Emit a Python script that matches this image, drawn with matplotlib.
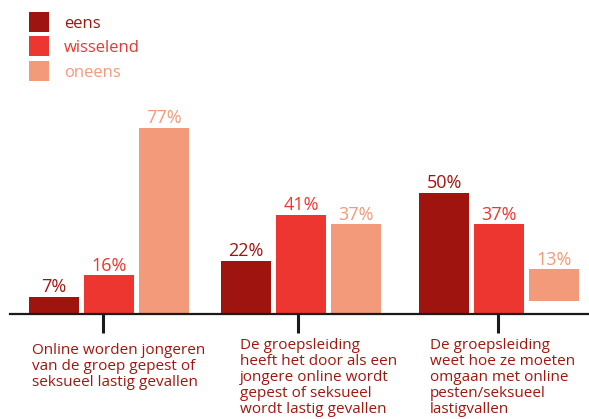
import matplotlib.pyplot as plt
from matplotlib.lines import Line2D
from matplotlib.transforms import Affine2D

plt.rcParams['font.family'] = ['Open Sans', 'DejaVu Sans']

# data
series = ['eens', 'wisselend', 'oneens']
eens = [7, 22, 50]
wisselend = [16, 41, 37]
oneens = [77, 37, 13]
oneens_base = [0, 0, 5.5]  # floating bar in the original
categories = [
    'Online worden jongeren\nvan de groep gepest of\nseksueel lastig gevallen',
    'De groepsleiding\nheeft het door als een\njongere online wordt\ngepest of seksueel\nwordt lastig gevallen',
    'De groepsleiding\nweet hoe ze moeten\nomgaan met online\npesten/seksueel\nlastigvallen',
]

colors = ['#a0140f', '#ed362f', '#f29a7a']
label_col = '#a3150f'

W, H = 589, 419
fig = plt.figure(figsize=(W / 100, H / 100), dpi=100)
# axes in pixel units horizontally, percent vertically (baseline at y=314px)
ax = fig.add_axes([10 / W, 0, 1 - 10 / W, 1])
px_per = 2.42
ax.set_xlim(10, W)
ax.set_ylim(-(H - 314) / px_per, 314 / px_per)

centers = [109, 301, 499]
bw, step = 50, 55
for j, (vals, base) in enumerate([(eens, [0, 0, 0]), (wisselend, [0, 0, 0]), (oneens, oneens_base)]):
    xs = [c + (j - 1) * step for c in centers]
    bars = ax.bar(xs, vals, width=bw, bottom=base, color=colors[j], label=series[j])
    ax.bar_label(bars, labels=[f'{v}%' for v in vals], padding=0.5,
                 color=colors[j], fontsize=13)

for s in ['top', 'right', 'left']:
    ax.spines[s].set_visible(False)
ax.spines['bottom'].set_position(('data', 0))
ax.spines['bottom'].set_linewidth(1.6)
ax.spines['bottom'].set_color('#1a1a1a')
ax.set_yticks([])
ax.set_xticks([103, 298, 498])
ax.set_xticklabels([])
ax.tick_params(axis='x', length=14, width=2.2, color='#1a1a1a', direction='out')

# category labels (figure pixels, origin bottom-left)
label_pos = [(32, H - 343), (240, H - 338), (430, H - 338)]
for txt, (x, y) in zip(categories, label_pos):
    ax.annotate(txt, (x, y), xycoords='figure pixels', ha='left', va='top',
                fontsize=11, color=label_col, linespacing=1.1)

handles = [Line2D([], [], marker='s', markersize=15, linestyle='',
                  color=c, markeredgewidth=0) for c in colors]
ax.legend(handles, series, loc='upper left', bbox_to_anchor=(28, H - 16),
          bbox_transform=Affine2D(), frameon=False, fontsize=12,
          handlelength=1.26, handleheight=0.7, handletextpad=0.9,
          labelspacing=0.5, borderpad=0, borderaxespad=0,
          labelcolor=colors)

fig.savefig('out.png', dpi=100)
